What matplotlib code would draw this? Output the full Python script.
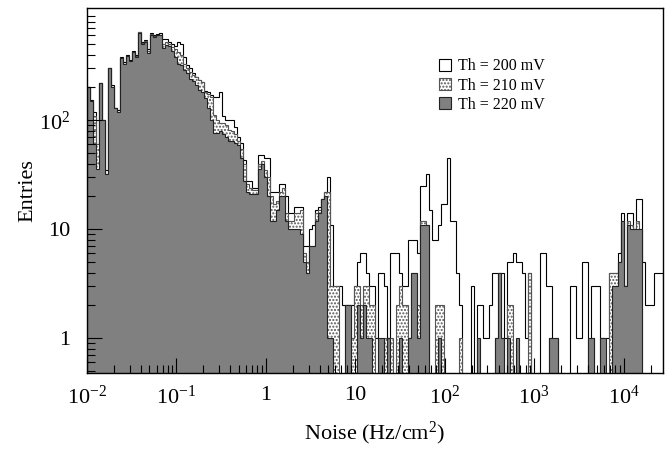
import numpy as np
import matplotlib
matplotlib.use("Agg")
import matplotlib.pyplot as plt
from matplotlib.patches import Patch
from matplotlib.ticker import FixedLocator, FixedFormatter, LogLocator, NullFormatter

plt.rcParams['font.family'] = ['Liberation Serif', 'DejaVu Serif']
plt.rcParams['mathtext.fontset'] = 'custom'
plt.rcParams['mathtext.rm'] = 'Liberation Serif'
plt.rcParams['mathtext.it'] = 'Liberation Serif:italic'

# log10 range of the noise axis and number of bins
log_lo, log_hi = -2.0, 4.44

# entries per bin, Th = 200 mV
h200 = [200,155,120,60,220,100,35,300,210,130,
        125,380,340,400,360,430,400,650,520,540,
        450,630,600,620,630,560,560,520,500,480,
        520,500,380,320,300,270,250,235,225,185,
        181,169,163,163,180,110,100,100,100,86,
        70,62,43,28,28,24,24,48,48,45,
        45,22,22,22,26,26,20,14,14,16,
        16,16,7,7,10,11,15,16,19,22,
        30,11,3,3,3,2,2,2,2,3,
        5,6,6,4,3,3,1,4,4,3,
        1,6,6,6,4,3,3,8,8,8,
        6,25,25,32,15,8,8,11,17,17,
        45,12,12,4,2,0,0,0,3,0,
        2,2,1,1,2,4,4,4,4,1,
        5,5,6,5,5,4,1,4,0,0,
        0,6,6,3,3,0,0,0,0,0,
        0,3,3,1,1,5,5,0,3,3,
        3,1,1,1,4,4,4,6,14,3,
        14,14,10,19,19,5,2,2,2,4,
        4,4]

# Th = 210 mV
h210 = [200,150,110,60,220,100,32,300,200,130,
        120,375,330,390,350,420,390,640,510,530,
        430,620,590,610,610,500,520,500,470,450,
        420,400,330,300,280,260,247,233,223,181,
        175,163,111,100,95,94,90,81,80,75,
        65,55,40,26,24,23,23,40,42,35,
        30,20,17,18,22,24,14,12,12,14,
        14,15,6,5,7,7,14,15,19,22,
        22,3,3,3,0,0,2,2,1,3,
        3,2,3,3,2,2,0,0,0,1,
        1,1,0,2,3,2,2,1,4,4,
        2,12,12,11,0,0,2,2,2,0,
        0,0,0,0,1,0,0,0,0,0,
        0,0,0,0,0,0,1,4,1,0,
        2,2,0,0,0,0,0,4,0,0,
        0,0,0,0,1,1,1,0,0,0,
        0,0,0,0,0,0,0,0,1,0,
        0,1,0,0,4,4,4,5,12,3,
        12,11,10,12,10,0,0,0,0,0,
        0,0]

# Th = 220 mV
h220 = [200,150,60,36,220,100,32,300,200,130,
        120,375,330,390,350,420,380,630,500,520,
        415,610,575,600,600,465,490,480,430,380,
        330,320,290,270,240,230,210,190,180,160,
        130,100,76,76,80,75,70,65,65,62,
        59,45,28,22,21,21,21,36,40,30,
        20,12,12,15,20,20,12,10,10,10,
        10,9,5,4,7,7,12,14,19,20,
        1,1,0,0,0,0,2,2,0,0,
        2,1,2,1,1,0,0,1,1,0,
        1,0,0,0,1,0,0,1,4,4,
        1,11,11,11,0,0,0,1,0,0,
        0,0,0,0,0,0,0,0,0,0,
        1,0,0,0,0,0,1,4,1,0,
        1,0,0,1,0,0,0,0,0,0,
        0,0,0,0,1,1,1,0,0,0,
        0,0,0,0,0,0,0,1,1,0,
        0,1,1,0,0,3,3,5,12,3,
        11,10,10,10,10,0,0,0,0,0,
        0,0]

labels = ['Th = 200 mV', 'Th = 210 mV', 'Th = 220 mV']
x_ticks = [1e-2, 1e-1, 1, 10, 1e2, 1e3, 1e4]
x_ticklabels = ['$10^{-2}$', '$10^{-1}$', '1', '10', '$10^{2}$', '$10^{3}$', '$10^{4}$']
y_ticks = [1, 10, 100]
y_ticklabels = ['1', '10', '$10^{2}$']

edges = np.logspace(log_lo, log_hi, len(h200) + 1)
floor = 0.1

fig = plt.figure(figsize=(6.69, 4.5), dpi=100)
ax = fig.add_axes([0.130, 0.171, 0.861, 0.811])

styles = [
    dict(facecolor='white', edgecolor='black', hatch=None),
    dict(facecolor='white', edgecolor='#555555', hatch='.....'),
    dict(facecolor='#808080', edgecolor='#222222', hatch=None),
]
for h, st in zip([h200, h210, h220], styles):
    v = np.array(h, dtype=float)
    v = np.where(v > 0, v, floor)
    ax.stairs(v, edges, baseline=floor, fill=True, lw=0.8, **st)

ax.set_xscale('log')
ax.set_yscale('log')
ax.set_xlim(10**log_lo, 10**log_hi)
ax.set_ylim(0.48, 1070)

ax.xaxis.set_major_locator(FixedLocator(x_ticks))
ax.xaxis.set_major_formatter(FixedFormatter(x_ticklabels))
ax.xaxis.set_minor_locator(LogLocator(base=10, subs=np.arange(2, 10), numticks=30))
ax.xaxis.set_minor_formatter(NullFormatter())
ax.yaxis.set_major_locator(FixedLocator(y_ticks))
ax.yaxis.set_major_formatter(FixedFormatter(y_ticklabels))
ax.yaxis.set_minor_locator(LogLocator(base=10, subs=np.arange(2, 10), numticks=30))
ax.yaxis.set_minor_formatter(NullFormatter())

ax.tick_params(which='both', direction='in', top=False, right=False, labelsize=16)
ax.tick_params(which='major', length=11, width=0.8)
ax.tick_params(which='minor', length=5.5, width=0.8)
ax.tick_params(axis='x', pad=9)
ax.tick_params(axis='y', pad=12)
for s in ax.spines.values():
    s.set_linewidth(1.0)

ax.set_xlabel('Noise (Hz/cm$^{2}$)', fontsize=16, labelpad=8)
ax.set_ylabel('Entries', fontsize=16, labelpad=1)

handles = [Patch(**st, lw=0.8) for st in styles]
ax.legend(handles, labels, loc='upper left', bbox_to_anchor=(0.612, 0.862),
          frameon=False, fontsize=11.5, handlelength=0.75, handleheight=0.75,
          handletextpad=0.4, labelspacing=0.2, borderpad=0, borderaxespad=0)

fig.savefig('out.png', dpi=100)
